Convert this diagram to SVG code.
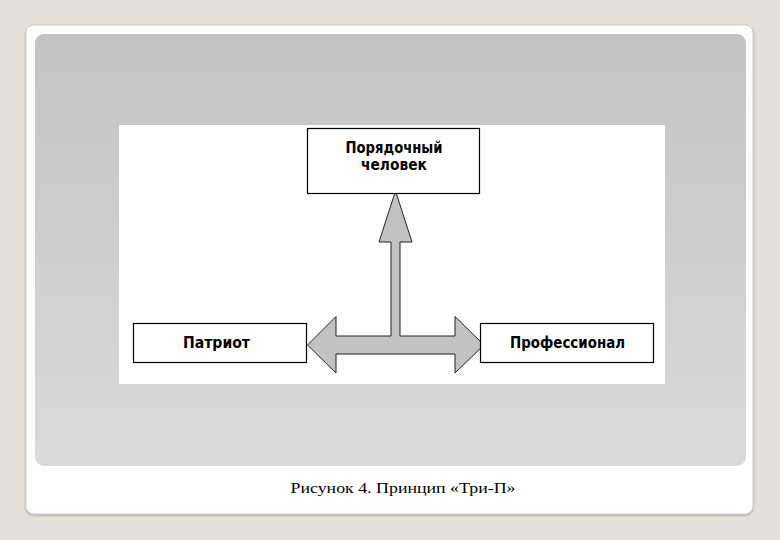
<svg xmlns="http://www.w3.org/2000/svg" width="780" height="540" viewBox="0 0 780 540">
  <defs>
    <linearGradient id="panel" x1="0" y1="0" x2="0" y2="1">
      <stop offset="0" stop-color="#c3c3c3"/>
      <stop offset="1" stop-color="#dadada"/>
    </linearGradient>
    <filter id="sh" x="-5%" y="-5%" width="110%" height="110%">
      <feDropShadow dx="0" dy="1" stdDeviation="1.2" flood-color="#000" flood-opacity="0.3"/>
    </filter>
    <style>
      .box { fill: #ffffff; stroke: #000000; stroke-width: 1.2; }
      .lbl { font-family: "DejaVu Sans Condensed", "Liberation Sans", Arial, sans-serif; font-weight: bold; font-size: 15px; fill: #000; text-anchor: middle; }
      .arrow { fill: #c2c2c2; stroke: #222; stroke-width: 1; stroke-linejoin: miter; }
      .cap { font-family: "Liberation Serif", "Times New Roman", serif; font-size: 15px; fill: #000; text-anchor: middle; }
    </style>
  </defs>
  <rect x="0" y="0" width="780" height="540" fill="#e5e0d7"/>
  <rect x="26" y="25" width="727" height="489" rx="8" fill="#ffffff" stroke="#cfcac2" filter="url(#sh)"/>
  <rect x="35" y="34" width="711" height="432" rx="9" fill="url(#panel)"/>
  <rect x="119" y="125" width="546" height="259" fill="#ffffff"/>

  <g id="connectors">
    <path class="arrow" d="M395.5,191 L412,242 L400,242 L400,336 L455,336 L455,316.5 L484,345 L455,373 L455,354 L336,354 L336,373 L307.5,345 L336,316.5 L336,336 L391,336 L391,242 L379,242 Z"/>
  </g>

  <g id="node-top">
    <rect class="box" x="307.5" y="128.5" width="172" height="65"/>
    <text class="lbl" x="394" y="153" textLength="97" lengthAdjust="spacingAndGlyphs">Порядочный</text>
    <text class="lbl" x="394" y="170" textLength="66" lengthAdjust="spacingAndGlyphs">человек</text>
  </g>
  <g id="node-left">
    <rect class="box" x="133.5" y="323.5" width="173" height="39"/>
    <text class="lbl" x="216.5" y="348" textLength="67" lengthAdjust="spacingAndGlyphs">Патриот</text>
  </g>
  <g id="node-right">
    <rect class="box" x="480.5" y="323.5" width="173" height="39"/>
    <text class="lbl" x="567.5" y="348" textLength="115" lengthAdjust="spacingAndGlyphs">Профессионал</text>
  </g>

  <text class="cap" x="403" y="493" textLength="225" lengthAdjust="spacingAndGlyphs">Рисунок 4. Принцип «Три-П»</text>
</svg>
